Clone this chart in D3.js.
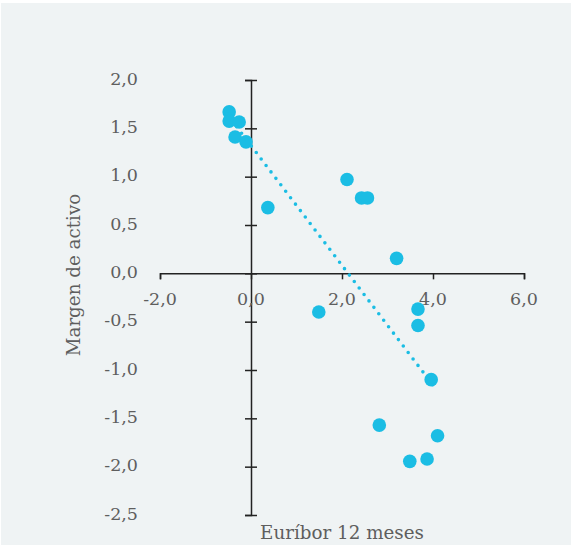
<!DOCTYPE html>
<html>
<head>
<meta charset="utf-8">
<script src="https://cdn.jsdelivr.net/npm/d3@7"></script>
<style>
  html, body { margin: 0; padding: 0; background: #ffffff; }
  svg { display: block; }
</style>
</head>
<body>
<script>
// Data
const euribor = [-0.48, -0.48, -0.26, -0.35, -0.11, 0.37, 2.11, 2.43, 2.56, 3.20, 1.49, 3.67, 3.67, 3.96, 2.82, 4.10, 3.49, 3.87];
const margen  = [ 1.67,  1.575, 1.565, 1.41,  1.36, 0.68, 0.97, 0.78, 0.78, 0.155, -0.40, -0.37, -0.54, -1.10, -1.57, -1.68, -1.945, -1.92];
const trendX = [-0.53, 4.07];
const trendY = [1.65, -1.20];
const xTicks = [-2, 0, 2, 4, 6];
const yTicks = [-2.5, -2, -1.5, -1, -0.5, 0, 0.5, 1, 1.5, 2];
const xTitle = "Euríbor 12 meses";
const yTitle = "Margen de activo";

const W = 573, H = 545;
const font = "'DejaVu Serif', serif";
const textColor = "#5e5e5e";
const dotColor = "#1bbde4";

const svg = d3.select("body").append("svg").attr("width", W).attr("height", H);
svg.append("rect").attr("x", 1).attr("y", 3).attr("width", 570).attr("height", 542).attr("fill", "#eff3f4");

const x = d3.scaleLinear().domain([-2, 6]).range([160, 524]);
const y = d3.scaleLinear().domain([-2.5, 2]).range([515, 80]);
const fmt = v => d3.format(".1f")(v).replace(".", ",").replace("−", "-");

// x axis
const gx = svg.append("g").attr("transform", `translate(0,${y(0)})`)
  .call(d3.axisBottom(x).tickValues(xTicks).tickSizeOuter(0).tickSize(6).tickFormat(""));
gx.select(".domain").attr("stroke", "#222").attr("stroke-width", 1.5);
gx.selectAll(".tick line").attr("stroke", "#222").attr("stroke-width", 1.5);

// y axis
const gy = svg.append("g").attr("transform", `translate(${x(0)},0)`)
  .call(d3.axisLeft(y).tickValues(yTicks).tickSizeOuter(0).tickSize(6).tickFormat(""));
gy.select(".domain").attr("stroke", "#222").attr("stroke-width", 1.5);
gy.selectAll(".tick line").attr("x1", -6).attr("x2", 6).attr("stroke", "#222").attr("stroke-width", 1.5);

// tick labels
svg.append("g").selectAll("text").data(xTicks).join("text")
  .attr("x", d => x(d)).attr("y", y(0) + 32)
  .attr("text-anchor", "middle")
  .attr("font-family", font).attr("font-size", 17.5).attr("fill", textColor)
  .text(fmt);
svg.append("g").selectAll("text").data(yTicks).join("text")
  .attr("x", 138).attr("y", d => y(d) + 4.5)
  .attr("text-anchor", "end")
  .attr("font-family", font).attr("font-size", 17.5).attr("fill", textColor)
  .text(fmt);

// titles
svg.append("text").attr("x", 342).attr("y", 539)
  .attr("text-anchor", "middle").attr("font-family", font).attr("font-size", 18.3).attr("fill", textColor)
  .text(xTitle);
svg.append("text").attr("transform", `translate(80,275) rotate(-90)`)
  .attr("text-anchor", "middle").attr("font-family", font).attr("font-size", 18.3).attr("fill", textColor)
  .text(yTitle);

// points
const pts = euribor.map((v, i) => ({ x: v, y: margen[i] }));
svg.append("g").selectAll("circle").data(pts).join("circle")
  .attr("cx", d => x(d.x)).attr("cy", d => y(d.y)).attr("r", 6.8)
  .attr("fill", dotColor);

// trend line (dotted)
const trend = trendX.map((v, i) => ({ x: v, y: trendY[i] }));
svg.append("path").datum(trend)
  .attr("d", d3.line().x(d => x(d.x)).y(d => y(d.y)))
  .attr("fill", "none").attr("stroke", dotColor).attr("stroke-width", 3.6)
  .attr("stroke-linecap", "round").attr("stroke-dasharray", "0 8.1");
</script>
</body>
</html>
